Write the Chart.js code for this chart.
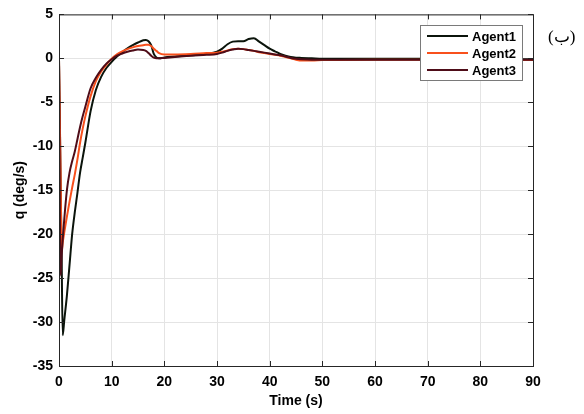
<!DOCTYPE html>
<html>
<head>
<meta charset="utf-8">
<script src="https://cdn.jsdelivr.net/npm/chart.js@4.4.0/dist/chart.umd.min.js"></script>
<style>
  html, body { margin: 0; padding: 0; background: #fff; }
  #wrap { position: relative; width: 584px; height: 414px; }
  #tag {
    position: absolute; left: 548px; top: 26px;
    font-family: "Liberation Serif", "DejaVu Serif", serif; font-size: 17px; color: #000;
  }
</style>
</head>
<body>
<div id="wrap">
  <canvas id="chart" width="584" height="414"></canvas>
  <div id="tag" dir="rtl">(ب)</div>
</div>
<script>
// ============================================
// Data
// ============================================

const timeS = [0, 0.3, 0.5, 0.7, 1, 1.5, 2, 2.5, 3, 3.5, 4, 4.5, 5, 6, 7, 8, 9, 10,
  11, 12, 13, 14, 15, 16, 16.5, 17, 17.5, 18, 18.5, 19, 20, 22, 25, 28, 30,
  31, 32, 33, 34, 35, 36, 37, 38, 39, 40, 41, 42, 43, 44, 45, 46, 48, 50, 60, 70, 80, 90];

const agent1 = [0, -13.5, -22.5, -31.5, -29.8, -27, -23.5, -20, -17.5, -15.3, -13, -11.3, -9.6, -6, -3.6, -2.1, -1.1, -0.4,
  0.2, 0.7, 1.15, 1.5, 1.8, 2.05, 2.1, 1.95, 1.5, 0.5, 0.1, 0, 0.1, 0.2, 0.35, 0.5, 0.75,
  1.1, 1.6, 1.9, 1.95, 1.95, 2.2, 2.3, 1.9, 1.5, 1.1, 0.8, 0.5, 0.3, 0.15, 0.08, 0.05, 0, -0.05, -0.05, -0.05, -0.1, -0.1];

const agent2 = [0, -13, -22, -21, -19.8, -18, -16.3, -14.7, -13.2, -11.5, -9.6, -8, -6.6, -4.3, -2.6, -1.5, -0.7, -0.05,
  0.45, 0.8, 1.05, 1.25, 1.4, 1.5, 1.55, 1.55, 1.4, 1.1, 0.85, 0.6, 0.45, 0.45, 0.5, 0.6, 0.65,
  0.75, 0.9, 1.05, 1.1, 1.05, 0.95, 0.85, 0.7, 0.6, 0.5, 0.4, 0.3, 0.15, 0, -0.15, -0.25, -0.25, -0.2, -0.15, -0.15, -0.2, -0.2];

const agent3 = [0, -24.7, -22.5, -20.6, -18.3, -15, -13, -11.7, -10.6, -9.2, -7.8, -6.6, -5.5, -3.4, -2.2, -1.3, -0.6, -0.1,
  0.3, 0.55, 0.75, 0.9, 1.0, 0.95, 0.85, 0.6, 0.3, 0.08, 0, 0, 0.05, 0.15, 0.3, 0.4, 0.5,
  0.65, 0.85, 1.0, 1.1, 1.05, 0.95, 0.85, 0.75, 0.65, 0.55, 0.45, 0.35, 0.2, 0.05, -0.05, -0.1, -0.15, -0.15, -0.15, -0.15, -0.15, -0.15];

const seriesLabels = ['Agent1', 'Agent2', 'Agent3'];
const seriesColors = ['#0b140b', '#f8501c', '#4e0c18'];

// ============================================
// Helpers
// ============================================

const FONT = '"Liberation Sans", Arial, sans-serif';

function toPoints(values) {
  return values.map((v, i) => ({ x: timeS[i], y: v }));
}

// MATLAB-style box with inward tick marks
const boxPlugin = {
  id: 'box',
  afterDraw(chart) {
    const { ctx, chartArea: a, scales } = chart;
    ctx.save();
    ctx.strokeStyle = '#262626';
    ctx.lineWidth = 1;
    ctx.strokeRect(a.left + 0.5, a.top + 0.5, a.right - a.left, a.bottom - a.top);
    ctx.beginPath();
    scales.x.ticks.forEach(t => {
      const px = Math.round(scales.x.getPixelForValue(t.value)) + 0.5;
      ctx.moveTo(px, a.bottom); ctx.lineTo(px, a.bottom - 5);
      ctx.moveTo(px, a.top); ctx.lineTo(px, a.top + 5);
    });
    scales.y.ticks.forEach(t => {
      const py = Math.round(scales.y.getPixelForValue(t.value)) + 0.5;
      ctx.moveTo(a.left, py); ctx.lineTo(a.left + 5, py);
      ctx.moveTo(a.right, py); ctx.lineTo(a.right - 5, py);
    });
    ctx.stroke();
    ctx.restore();
  }
};

// Legend box inside the plot, top right
const legendPlugin = {
  id: 'boxLegend',
  afterDraw(chart) {
    const { ctx } = chart;
    const x = 420, y = 25, w = 102, h = 55;
    ctx.save();
    ctx.fillStyle = '#fff';
    ctx.fillRect(x, y, w, h);
    ctx.strokeStyle = '#7a7a7a';
    ctx.lineWidth = 1;
    ctx.strokeRect(x + 0.5, y + 0.5, w, h);
    ctx.font = 'bold 13px ' + FONT;
    ctx.textBaseline = 'middle';
    chart.data.datasets.forEach((ds, i) => {
      const ry = y + 11 + i * 17;
      ctx.strokeStyle = ds.borderColor;
      ctx.lineWidth = 2;
      ctx.beginPath();
      ctx.moveTo(x + 7, ry); ctx.lineTo(x + 48, ry);
      ctx.stroke();
      ctx.fillStyle = '#000';
      ctx.fillText(ds.label, x + 52, ry + 1);
    });
    ctx.restore();
  }
};

// ============================================
// Chart
// ============================================

new Chart(document.getElementById('chart'), {
  type: 'line',
  data: {
    datasets: [agent1, agent2, agent3].map((vals, i) => ({
      label: seriesLabels[i],
      data: toPoints(vals),
      borderColor: seriesColors[i],
      backgroundColor: seriesColors[i],
      borderWidth: 2,
      pointRadius: 0,
      cubicInterpolationMode: 'monotone',
      order: 3 - i
    }))
  },
  options: {
    responsive: false,
    animation: false,
    layout: { padding: { top: 14, right: 51, left: 0, bottom: 0 } },
    plugins: {
      legend: { display: false },
      tooltip: { enabled: false }
    },
    scales: {
      x: {
        type: 'linear',
        min: 0,
        max: 90,
        afterFit: s => { s.height = 48; },
        grid: { color: '#e4e4e4', drawTicks: false },
        border: { display: false },
        ticks: {
          stepSize: 10,
          padding: 8,
          color: '#000',
          font: { family: FONT, size: 14, weight: 'bold' }
        },
        title: {
          display: true,
          text: 'Time (s)',
          color: '#000',
          padding: { top: 0, bottom: 4 },
          font: { family: FONT, size: 14, weight: 'bold' }
        }
      },
      y: {
        min: -35,
        max: 5,
        afterFit: s => { s.width = 59; },
        grid: { color: '#e4e4e4', drawTicks: false },
        border: { display: false },
        ticks: {
          stepSize: 5,
          padding: 6,
          color: '#000',
          font: { family: FONT, size: 14, weight: 'bold' }
        },
        title: {
          display: true,
          text: 'q (deg/s)',
          color: '#000',
          padding: { top: 12, bottom: 0 },
          font: { family: FONT, size: 14, weight: 'bold' }
        }
      }
    }
  },
  plugins: [boxPlugin, legendPlugin]
});
</script>
</body>
</html>
